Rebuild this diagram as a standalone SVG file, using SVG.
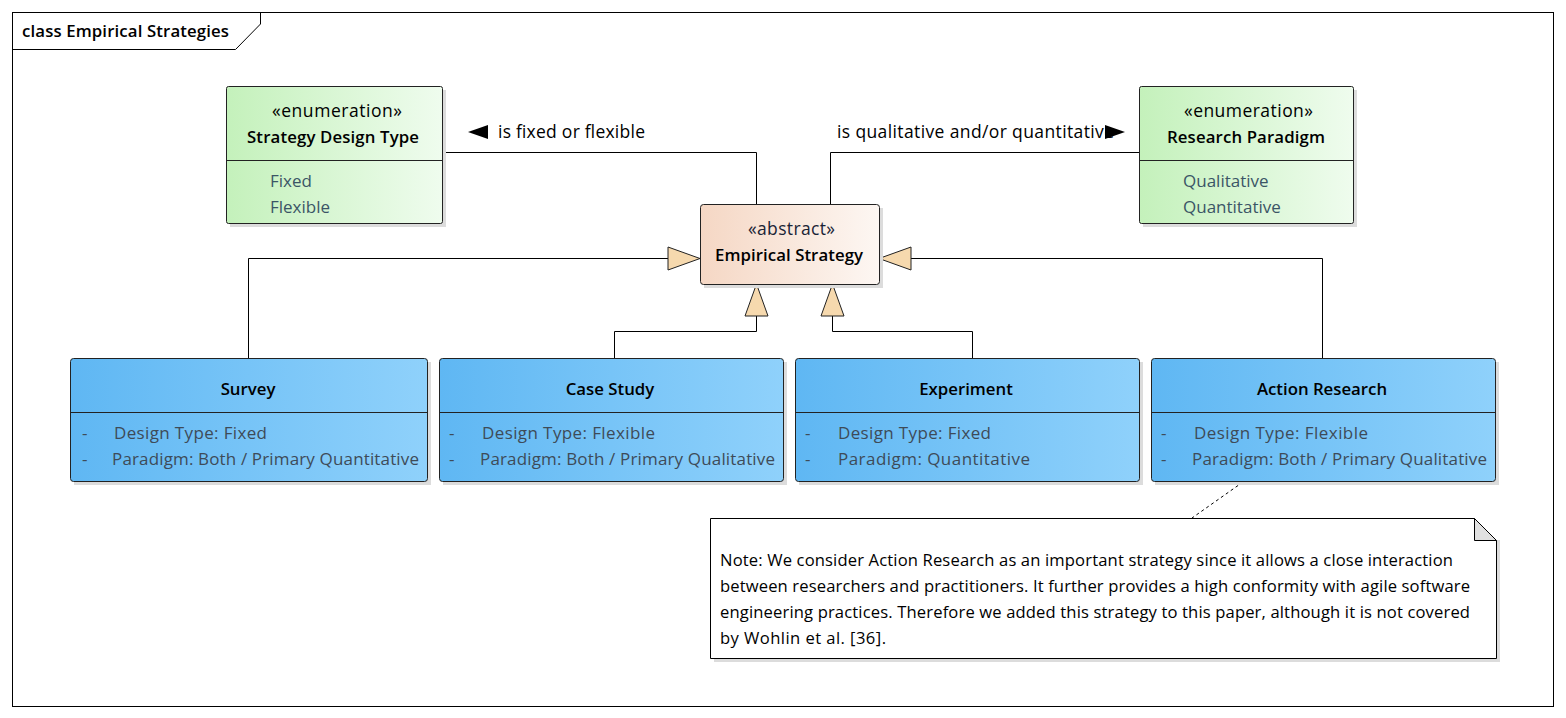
<svg xmlns="http://www.w3.org/2000/svg" width="1566" height="718" viewBox="0 0 1566 718">
<defs>
<linearGradient id="gGreen" x1="0" y1="0" x2="1" y2="0"><stop offset="0" stop-color="#c4f1bb"/><stop offset="1" stop-color="#effcee"/></linearGradient>
<linearGradient id="gBlue" x1="0" y1="0" x2="1" y2="0"><stop offset="0" stop-color="#5fb7f3"/><stop offset="1" stop-color="#8fd1fb"/></linearGradient>
<linearGradient id="gPeach" x1="0" y1="0" x2="1" y2="0"><stop offset="0" stop-color="#f5d7c4"/><stop offset="1" stop-color="#fdf7f3"/></linearGradient>
</defs>
<style>
text{font-family:"Open Sans","Noto Sans","Liberation Sans",sans-serif;fill:#000}
.t{font-size:17.5px}
.b{font-size:16.8px;font-weight:600}
.lit{font-size:17px;fill:#3b5566}
.att{font-size:17px;fill:#3e4b58}
.note{font-size:16.6px}
.box{stroke:#222;stroke-width:1}
.sh{fill:#dcdcdc}
.ln{fill:none;stroke:#000;stroke-width:1}
.tri{fill:#f6d9ae;stroke:#222;stroke-width:1}
</style>
<rect x="0" y="0" width="1566" height="718" fill="#fff"/>
<g id="frame">
<rect x="12.5" y="12.5" width="1541" height="694" fill="none" stroke="#000"/>
<path d="M12.5 49.5 H235.5 L260.5 24 V12.5" fill="none" stroke="#000"/>
<text x="22" y="37" style="font-size:16.8px;font-weight:600" textLength="207">class Empirical Strategies</text>
</g>
<g id="connectors">
<path class="ln" d="M442 152.5 H756.5 V204"/>
<path class="ln" d="M830.5 204 V152.5 H1139"/>
<polygon points="468,132 488,125 488,139" fill="#000"/>
<text class="t" x="498" y="138" textLength="147">is fixed or flexible</text>
<text class="t" x="837" y="138" textLength="277">is qualitative and/or quantitative</text>
<polygon points="1125,132 1105,125 1105,139" fill="#000"/>
<path class="ln" d="M248.5 358 V258.5 H668"/>
<polygon class="tri" points="700,258.5 668,247 668,270"/>
<path class="ln" d="M614.5 358 V331.5 H756.5 V316"/>
<polygon class="tri" points="756.5,284 745,316 768,316"/>
<path class="ln" d="M972.5 358 V331.5 H832.5 V316"/>
<polygon class="tri" points="832.5,284 821,316 844,316"/>
<path class="ln" d="M1322.5 358 V258.5 H911"/>
<polygon class="tri" points="879,258.5 911,247 911,270"/>
<path d="M1243 482 L1192 518" fill="none" stroke="#000" stroke-dasharray="3,3"/>
</g>
<g id="strategyDesignType">
<rect class="sh" x="230" y="90" width="216" height="137"/>
<rect class="box" x="226.5" y="86.5" width="216" height="137" rx="2" fill="url(#gGreen)"/>
<line x1="226.5" y1="160.5" x2="442.5" y2="160.5" stroke="#222"/>
<text class="t" x="272" y="117" textLength="130">«enumeration»</text>
<text class="b" x="247" y="143" textLength="172">Strategy Design Type</text>
<text class="lit" x="270" y="187">Fixed</text>
<text class="lit" x="270" y="213">Flexible</text>
</g>
<g id="researchParadigm">
<rect class="sh" x="1143" y="90" width="214" height="137"/>
<rect class="box" x="1139.5" y="86.5" width="214" height="137" rx="2" fill="url(#gGreen)"/>
<line x1="1139.5" y1="160.5" x2="1353.5" y2="160.5" stroke="#222"/>
<text class="t" x="1184" y="117" textLength="129">«enumeration»</text>
<text class="b" x="1167" y="143" textLength="158">Research Paradigm</text>
<text class="lit" x="1183" y="187">Qualitative</text>
<text class="lit" x="1183" y="213">Quantitative</text>
</g>
<g id="empiricalStrategy">
<rect class="sh" x="704" y="208" width="179" height="80"/>
<rect class="box" x="700.5" y="204.5" width="179" height="80" rx="3" fill="url(#gPeach)"/>
<text class="t" x="748" y="235" textLength="87" style="fill:#1a2436">«abstract»</text>
<text class="b" x="715" y="261" textLength="148">Empirical Strategy</text>
</g>
<g id="survey">
<rect class="sh" x="74" y="362" width="357" height="123"/>
<rect class="box" x="70.5" y="358.5" width="357" height="123" rx="3" fill="url(#gBlue)"/>
<line x1="70.5" y1="412.5" x2="427.5" y2="412.5" stroke="#222"/>
<text class="b" x="248" y="395" text-anchor="middle">Survey</text>
<text class="att" x="82" y="439">-</text><text class="att" x="114" y="439" textLength="153">Design Type: Fixed</text>
<text class="att" x="82" y="465">-</text><text class="att" x="112" y="465" textLength="307">Paradigm: Both / Primary Quantitative</text>
</g>
<g id="caseStudy">
<rect class="sh" x="443" y="362" width="344" height="123"/>
<rect class="box" x="439.5" y="358.5" width="344" height="123" rx="3" fill="url(#gBlue)"/>
<line x1="439.5" y1="412.5" x2="783.5" y2="412.5" stroke="#222"/>
<text class="b" x="610" y="395" text-anchor="middle">Case Study</text>
<text class="att" x="449" y="439">-</text><text class="att" x="482" y="439" textLength="173">Design Type: Flexible</text>
<text class="att" x="449" y="465">-</text><text class="att" x="480" y="465" textLength="295">Paradigm: Both / Primary Qualitative</text>
</g>
<g id="experiment">
<rect class="sh" x="799" y="362" width="344" height="123"/>
<rect class="box" x="795.5" y="358.5" width="344" height="123" rx="3" fill="url(#gBlue)"/>
<line x1="795.5" y1="412.5" x2="1139.5" y2="412.5" stroke="#222"/>
<text class="b" x="966" y="395" text-anchor="middle">Experiment</text>
<text class="att" x="805" y="439">-</text><text class="att" x="838" y="439" textLength="153">Design Type: Fixed</text>
<text class="att" x="805" y="465">-</text><text class="att" x="838" y="465" textLength="192">Paradigm: Quantitative</text>
</g>
<g id="actionResearch">
<rect class="sh" x="1155" y="362" width="344" height="123"/>
<rect class="box" x="1151.5" y="358.5" width="344" height="123" rx="3" fill="url(#gBlue)"/>
<line x1="1151.5" y1="412.5" x2="1495.5" y2="412.5" stroke="#222"/>
<text class="b" x="1322" y="395" text-anchor="middle">Action Research</text>
<text class="att" x="1161" y="439">-</text><text class="att" x="1194" y="439" textLength="174">Design Type: Flexible</text>
<text class="att" x="1161" y="465">-</text><text class="att" x="1192" y="465" textLength="295">Paradigm: Both / Primary Qualitative</text>
</g>
<g id="note">
<rect class="sh" x="714" y="540" width="786" height="122"/>
<path d="M710.5 518.5 H1474.5 L1496.5 540.5 V658.5 H710.5 Z" fill="#fff" stroke="#000"/>
<path d="M1474.5 518.5 V540.5 H1496.5 Z" fill="#e0e0e0" stroke="#000"/>
<text class="note" x="720" y="566" textLength="733">Note: We consider Action Research as an important strategy since it allows a close interaction</text>
<text class="note" x="720" y="592" textLength="750">between researchers and practitioners. It further provides a high conformity with agile software</text>
<text class="note" x="720" y="618" textLength="750">engineering practices. Therefore we added this strategy to this paper, although it is not covered</text>
<text class="note" x="720" y="644" textLength="166">by Wohlin et al. [36].</text>
</g>
</svg>
